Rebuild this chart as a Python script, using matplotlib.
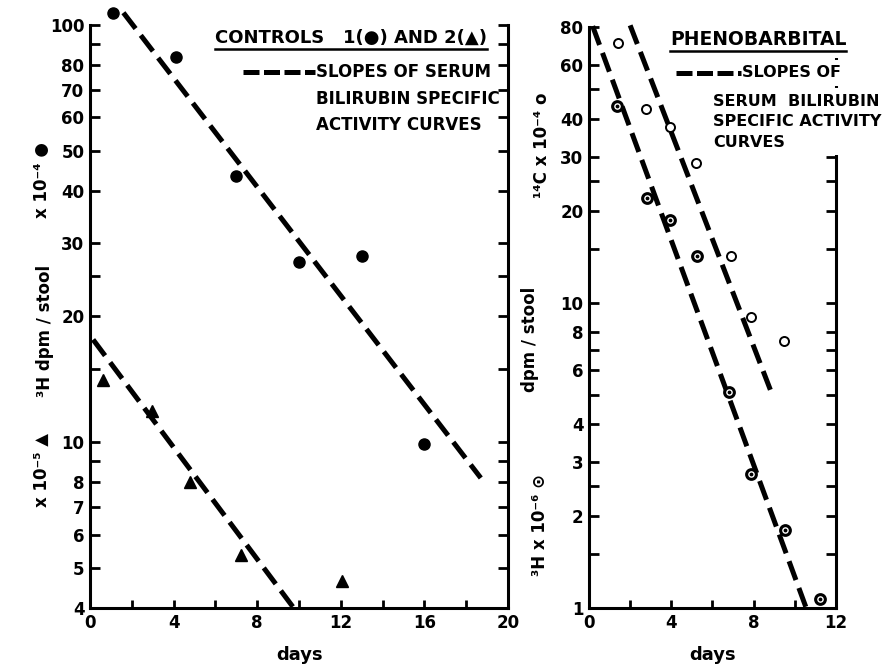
import matplotlib
matplotlib.use("Agg")
import matplotlib.pyplot as plt
from matplotlib.lines import Line2D

plt.rcParams["font.family"] = ["DejaVu Sans"]
plt.rcParams["font.weight"] = "bold"

# --- data ------------------------------------------------------------------
# controls: 3H dpm/stool, subject 1 (x 10^-4) and subject 2 (x 10^-5)
ctrl1_days = [1.1, 4.1, 7.0, 10.0, 13.0, 16.0]
ctrl1_dpm = [107, 84, 43.5, 27, 28, 9.9]
ctrl2_days = [0.6, 2.95, 4.8, 7.25, 12.05]
ctrl2_dpm = [14.1, 11.9, 8.0, 5.35, 4.65]
ctrl1_slope_days = [1.6, 18.7]
ctrl1_slope_dpm = [107, 8.2]
ctrl2_slope_days = [0.15, 9.75]
ctrl2_slope_dpm = [17.6, 4.0]

# phenobarbital: 14C (x 10^-4, open) and 3H (x 10^-6, dotted)
c14_days = [1.43, 2.76, 3.95, 5.22, 6.88, 7.89, 9.45]
c14_dpm = [71, 43, 37.5, 28.7, 14.2, 9.0, 7.5]
h3_days = [1.38, 2.81, 3.95, 5.25, 6.80, 7.89, 9.51, 11.23]
h3_dpm = [44, 22, 18.6, 14.2, 5.1, 2.75, 1.8, 1.07]
c14_slope_days = [2.0, 8.9]
c14_slope_dpm = [81, 5.0]
h3_slope_days = [0.18, 10.6]
h3_slope_dpm = [80.5, 0.98]

# axis ticks
left_yticks = [4, 5, 6, 7, 8, 9, 10, 15, 20, 25, 30, 40, 50, 60, 70, 80, 90, 100]
left_ylabels = ["4", "5", "6", "7", "8", "", "10", "", "20", "", "30", "40",
                "50", "60", "70", "80", "", "100"]
left_xticks = list(range(0, 21, 2))
left_xlabels = ["0", "", "4", "", "8", "", "12", "", "16", "", "20"]
right_yticks = [1, 1.5, 2, 2.5, 3, 4, 5, 6, 7, 8, 10, 15, 20, 25, 30, 40, 50, 60, 80]
right_ylabels = ["1", "", "2", "", "3", "4", "", "6", "", "8", "10", "", "20", "",
                 "30", "40", "", "60", "80"]
right_xticks = list(range(0, 13, 2))
right_xlabels = ["0", "", "4", "", "8", "", "12"]

DASH = (0, (4, 1.7))
LW = 3.6

fig = plt.figure(figsize=(8.89, 6.66), dpi=100)
ax1 = fig.add_axes([0.1012, 0.0871, 0.4702, 0.8754])
ax2 = fig.add_axes([0.6625, 0.0871, 0.2779, 0.8724])


def style_axis(ax, yticks, ylabels, xticks, xlabels, ylim, xlim):
    ax.set_yscale("log")
    ax.set_ylim(*ylim)
    ax.set_xlim(*xlim)
    ax.set_yticks(yticks, ylabels)
    ax.set_xticks(xticks, xlabels)
    ax.minorticks_off()
    ax.spines["top"].set_visible(False)
    for s in ("left", "right", "bottom"):
        ax.spines[s].set_linewidth(2.2)
    ax.tick_params(axis="y", which="both", direction="in", length=7, width=2,
                   left=True, right=True, labelsize=12, pad=4)
    ax.tick_params(axis="x", direction="in", length=6, width=2,
                   top=False, labelsize=12, pad=4)


style_axis(ax1, left_yticks, left_ylabels, left_xticks, left_xlabels, (4, 100), (0, 20))
style_axis(ax2, right_yticks, right_ylabels, right_xticks, right_xlabels, (1, 80), (0, 12))

# controls panel
ax1.plot(ctrl1_slope_days, ctrl1_slope_dpm, color="black", lw=LW, ls=DASH, clip_on=False)
ax1.plot(ctrl2_slope_days, ctrl2_slope_dpm, color="black", lw=LW, ls=DASH, clip_on=False)
ax1.plot(ctrl1_days, ctrl1_dpm, "o", color="black", ms=8, clip_on=False, zorder=4)
ax1.plot(ctrl2_days, ctrl2_dpm, "^", color="black", ms=8, clip_on=False, zorder=4)

# phenobarbital panel
ax2.plot(c14_slope_days, c14_slope_dpm, color="black", lw=LW, ls=DASH, clip_on=False)
ax2.plot(h3_slope_days, h3_slope_dpm, color="black", lw=LW, ls=DASH, clip_on=False)
ax2.plot(c14_days, c14_dpm, "o", mfc="white", mec="black", mew=1.4, ms=6.5,
         clip_on=False, zorder=4)
ax2.plot(h3_days, h3_dpm, "o", mfc="white", mec="black", mew=2.2, ms=7,
         clip_on=False, zorder=4)
ax2.plot(h3_days, h3_dpm, ".", color="black", ms=3.5, clip_on=False, zorder=5)

# legends drawn as plain text, like the paste-up original
white = dict(facecolor="white", edgecolor="none", pad=4)
h1 = ax1.text(0.299, 0.978, "CONTROLS   1(●) AND 2(▲)", transform=ax1.transAxes,
              fontsize=13, ha="left", va="center", zorder=6)
ax1.add_line(Line2D([0.366, 0.538], [0.919, 0.919], transform=ax1.transAxes,
                    color="black", lw=LW, ls=(0, (3.2, 0.9)), clip_on=False, zorder=7))
ax1.text(0.541, 0.934, "SLOPES OF SERUM\nBILIRUBIN SPECIFIC\nACTIVITY CURVES",
         transform=ax1.transAxes, fontsize=12, ha="left", va="top",
         linespacing=1.6, zorder=6)

h2 = ax2.text(0.328, 0.978, "PHENOBARBITAL", transform=ax2.transAxes,
              fontsize=13.5, ha="left", va="center", zorder=6,
              bbox=dict(facecolor="white", edgecolor="none", pad=6))
ax2.add_line(Line2D([0.352, 0.615], [0.921, 0.921], transform=ax2.transAxes,
                    color="black", lw=LW, ls=(0, (3.2, 0.9)), clip_on=False, zorder=7))
ax2.text(0.619, 0.921, "SLOPES OF", transform=ax2.transAxes, fontsize=11.5,
         ha="left", va="center", zorder=6, bbox=white)
ax2.text(0.502, 0.885, "SERUM  BILIRUBIN\nSPECIFIC ACTIVITY\nCURVES",
         transform=ax2.transAxes, fontsize=11.5, ha="left", va="top",
         linespacing=1.45, zorder=6, bbox=white)

# axis titles
fig.text(0.0506, 0.503, "³H dpm / stool", rotation=90, fontsize=12,
         ha="center", va="center")
fig.text(0.047, 0.730, "x 10⁻⁴ ●", rotation=90, fontsize=12, ha="center", va="center")
fig.text(0.047, 0.294, "x 10⁻⁵ ▲", rotation=90, fontsize=12, ha="center", va="center")
fig.text(0.610, 0.782, "¹⁴C x 10⁻⁴ o", rotation=90, fontsize=12, ha="center", va="center")
fig.text(0.596, 0.490, "dpm / stool", rotation=90, fontsize=12, ha="center", va="center")
fig.text(0.607, 0.212, "³H x 10⁻⁶ ⊙", rotation=90, fontsize=12, ha="center", va="center")
fig.text(0.337, 0.017, "days", fontsize=13, ha="center", va="center")
fig.text(0.801, 0.017, "days", fontsize=13, ha="center", va="center")

# underline the two headers
fig.canvas.draw()
renderer = fig.canvas.get_renderer()
inv = fig.transFigure.inverted()
for txt in (h1, h2):
    bb = txt.get_window_extent(renderer)
    (x0, y0), (x1, _) = inv.transform([[bb.x0, bb.y0 - 2], [bb.x1, bb.y0 - 2]])
    fig.add_artist(Line2D([x0, x1], [y0, y0], transform=fig.transFigure,
                          color="black", lw=1.8, zorder=7))

fig.savefig("out.png", dpi=100)
